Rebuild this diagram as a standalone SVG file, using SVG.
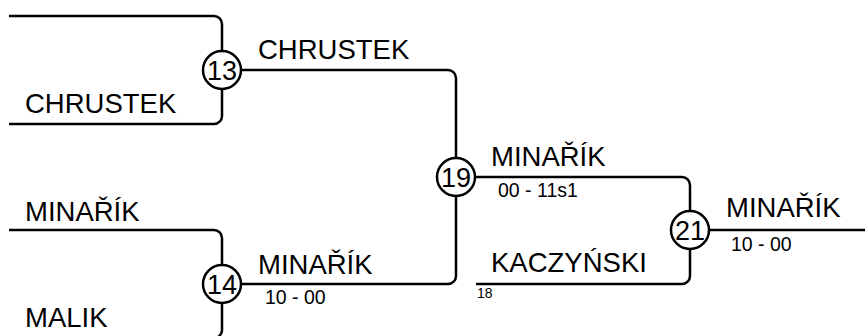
<svg xmlns="http://www.w3.org/2000/svg" width="865" height="336" viewBox="0 0 865 336">
<style>
.c{fill:none;stroke:#000;stroke-width:2.5}
.n{fill:#fff;stroke:#000;stroke-width:2.5}
.t{font-family:"Liberation Sans",Arial,sans-serif;fill:#000}
.b{font-size:27.5px}
.s{font-size:19.5px}
.x{font-size:14px}
.m{font-size:27px;text-anchor:middle}
</style>
<rect width="865" height="336" fill="#fff"/>
<g id="connectors">
<path class="c" d="M9 16H214A8 8 0 0 1 222 24V116A8 8 0 0 1 214 124H9"/>
<path class="c" d="M9 230H214A8 8 0 0 1 222 238V330A8 8 0 0 1 214 338H9"/>
<path class="c" d="M222 70H448A8 8 0 0 1 456 78V276A8 8 0 0 1 448 284H222"/>
<path class="c" d="M456 177H682A8 8 0 0 1 690 185V276A8 8 0 0 1 682 284H476"/>
<path class="c" d="M690 230H865"/>
</g>
<g id="labels" class="t">
<text class="b" x="25" y="113">CHRUSTEK</text>
<text class="b" x="25" y="221">MINAŘÍK</text>
<text class="b" x="25" y="327">MALIK</text>
<text class="b" x="258" y="59">CHRUSTEK</text>
<text class="b" x="258" y="274">MINAŘÍK</text>
<text class="s" x="265" y="304">10 - 00</text>
<text class="b" x="491" y="166">MINAŘÍK</text>
<text class="s" x="498" y="197">00 - 11s1</text>
<text class="b" x="491" y="272">KACZYŃSKI</text>
<text class="x" x="477" y="298">18</text>
<text class="b" x="726" y="217">MINAŘÍK</text>
<text class="s" x="731" y="251">10 - 00</text>
</g>
<g id="m13"><circle class="n" cx="222" cy="70" r="19"/><text class="t m" x="222" y="79.5">13</text></g>
<g id="m14"><circle class="n" cx="222" cy="284" r="19"/><text class="t m" x="222" y="293.5">14</text></g>
<g id="m19"><circle class="n" cx="456" cy="177" r="19"/><text class="t m" x="456" y="186.5">19</text></g>
<g id="m21"><circle class="n" cx="690" cy="230" r="19"/><text class="t m" x="690" y="239.5">21</text></g>
</svg>
